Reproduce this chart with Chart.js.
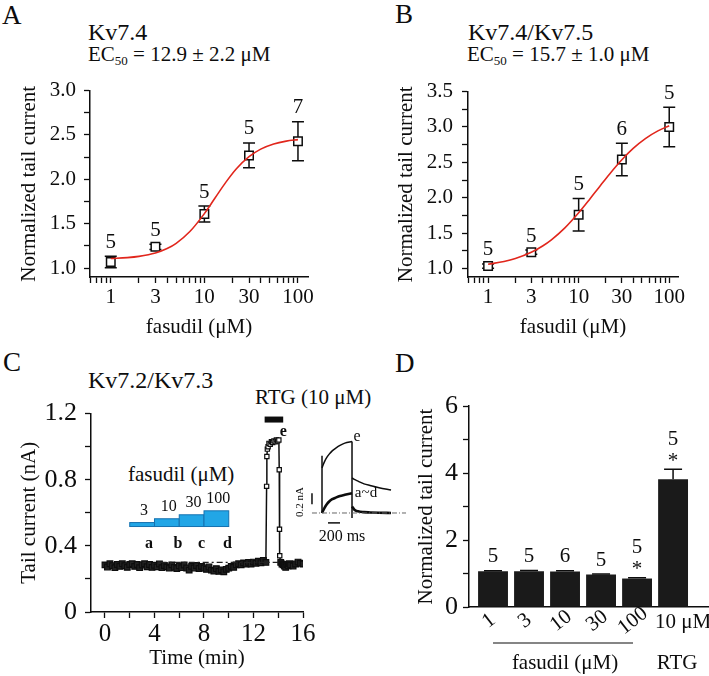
<!DOCTYPE html>
<html>
<head>
<meta charset="utf-8">
<script src="https://cdn.jsdelivr.net/npm/chart.js@4.4.1/dist/chart.umd.min.js"></script>
<style>
  html, body { margin: 0; padding: 0; background: #fff; }
  #fig { position: relative; width: 709px; height: 676px; overflow: hidden;
         font-family: "Liberation Serif", "DejaVu Serif", serif; color: #0d0d0d; }
  #fig canvas { position: absolute; }
  .t { position: absolute; white-space: nowrap; line-height: 1; }
  .t sub { font-size: 13px; vertical-align: -4px; line-height: 0; }
</style>
</head>
<body>
<div id="fig">
  <div class="t" style="left:2px;top:2px;font-size:27px">A</div>
  <div class="t" style="left:88px;top:20px;font-size:24px">Kv7.4</div>
  <div class="t" style="left:88px;top:44px;font-size:21px">EC<sub>50</sub> = 12.9 ± 2.2 μM</div>
  <div class="t" style="left:395px;top:1px;font-size:27px">B</div>
  <div class="t" style="left:468px;top:20px;font-size:24px">Kv7.4/Kv7.5</div>
  <div class="t" style="left:467px;top:44px;font-size:21px">EC<sub>50</sub> = 15.7 ± 1.0 μM</div>
  <div class="t" style="left:3px;top:349px;font-size:27px">C</div>
  <div class="t" style="left:88px;top:368px;font-size:24px">Kv7.2/Kv7.3</div>
  <div class="t" style="left:255px;top:387px;font-size:21px">RTG (10 μM)</div>
  <div class="t" style="left:128px;top:464px;font-size:21px">fasudil (μM)</div>
  <div class="t" style="left:395px;top:350px;font-size:27px">D</div>

  <canvas id="chartA" width="340" height="270" style="left:0;top:70px"></canvas>
  <canvas id="chartB" width="354" height="270" style="left:355px;top:70px"></canvas>
  <canvas id="chartC" width="330" height="286" style="left:0;top:390px"></canvas>
  <canvas id="chartInset" width="125" height="125" style="left:295px;top:425px"></canvas>
  <canvas id="chartD" width="354" height="296" style="left:355px;top:380px"></canvas>
</div>
<script>
"use strict";

// ---- panel A / B : concentration-response ----
const doses = [1, 3, 10, 30, 100];
const doseLabels = [1, 3, 10, 30, 100];
const logTicks = [0.6, 0.7, 0.8, 0.9, 1, 2, 3, 4, 5, 6, 7, 8, 9, 10, 20, 30, 40, 50, 60, 70, 80, 90, 100];

const kv74Mean = [1.07, 1.24, 1.61, 2.27, 2.43];
const kv74Sem = [0.065, 0.03, 0.09, 0.14, 0.22];
const kv74N = ['5', '5', '5', '5', '7'];

const kv745Mean = [1.035, 1.23, 1.76, 2.54, 3.0];
const kv745Sem = [0.03, 0.03, 0.23, 0.23, 0.28];
const kv745N = ['5', '5', '5', '6', '5'];

// fitted curves
const fitDoses = [1, 1.5, 2, 3, 4, 5, 7, 10, 13, 17, 22, 30, 40, 55, 75, 100];
const kv74Fit = [1.108, 1.118, 1.132, 1.170, 1.220, 1.279, 1.412, 1.614, 1.790, 1.969, 2.120, 2.256, 2.341, 2.399, 2.431, 2.448];
const kv745Fit = [1.060, 1.099, 1.141, 1.229, 1.318, 1.405, 1.570, 1.787, 1.966, 2.157, 2.337, 2.537, 2.697, 2.839, 2.945, 3.018];

const kv74YTicks = [1, 1.25, 1.5, 1.75, 2, 2.25, 2.5, 2.75, 3];
const kv745YTicks = [1, 1.25, 1.5, 1.75, 2, 2.25, 2.5, 2.75, 3, 3.25, 3.5];

// ---- panel C : time course (min, nA) ----
const tcTime = [0, 0.2, 0.4, 0.6, 0.8, 1, 1.2, 1.4, 1.6, 1.8, 2, 2.2, 2.4, 2.6, 2.8, 3, 3.2, 3.4, 3.6, 3.8,
  4, 4.2, 4.4, 4.6, 4.8, 5, 5.2, 5.4, 5.6, 5.8, 6, 6.2, 6.4, 6.6, 6.8, 7, 7.2, 7.4, 7.6, 7.8,
  8, 8.2, 8.4, 8.6, 8.8, 9, 9.2, 9.4, 9.6, 9.8, 10, 10.2, 10.4, 10.6, 10.8, 11, 11.2, 11.4, 11.6, 11.8,
  12, 12.2, 12.4, 12.6, 12.8, 13.0,
  13.06, 13.08, 13.12, 13.18, 13.25, 13.35, 13.45, 13.55, 13.65, 13.75, 13.85, 13.95, 14.05, 14.08, 14.1, 14.12,
  14.2, 14.3, 14.4, 14.5, 14.6, 14.7, 14.8, 14.9, 15, 15.2, 15.4, 15.6, 15.8, 16];
const tcCurrent = [0.285, 0.272, 0.292, 0.28, 0.268, 0.287, 0.276, 0.292, 0.28, 0.27,
  0.287, 0.292, 0.276, 0.287, 0.268, 0.284, 0.292, 0.274, 0.287, 0.27,
  0.283, 0.273, 0.29, 0.268, 0.281, 0.273, 0.266, 0.285, 0.27, 0.263,
  0.279, 0.268, 0.284, 0.266, 0.253, 0.276, 0.266, 0.281, 0.263, 0.276,
  0.266, 0.258, 0.272, 0.253, 0.248, 0.262, 0.246, 0.255, 0.243, 0.258,
  0.265, 0.276, 0.27, 0.285, 0.292, 0.285, 0.297, 0.29, 0.3, 0.29,
  0.302, 0.295, 0.307, 0.298, 0.312, 0.3,
  0.76, 0.94, 0.985, 1.0, 1.02, 1.015, 1.03, 1.025, 1.035, 1.03, 1.04, 1.035, 1.04, 0.86, 0.5, 0.34,
  0.30, 0.29, 0.285, 0.278, 0.27, 0.287, 0.28, 0.292, 0.285, 0.278, 0.29, 0.302, 0.295, 0.29];
const refLineT = [4.5, 14.0];
const refLineY = [0.30, 0.30];
const fasStart = [2, 4, 6, 8];
const fasEnd = [4, 6, 8, 10];
const fasTop = [0.541, 0.564, 0.588, 0.612];
const fasBase = 0.517;
const fasConc = ['3', '10', '30', '100'];
const rtgBar = [12.9, 14.4];
const rtgBarLevel = 1.164;
const markText = ['a', 'b', 'c', 'd', 'e'];
const markT = [3.55, 5.9, 7.8, 9.9, 14.4];
const markY = [0.41, 0.41, 0.41, 0.41, 1.09];
const cTimeTicks = [0, 2, 4, 6, 8, 10, 12, 14, 16];
const cTimeLabels = [0, 4, 8, 12, 16];
const cCurTicks = [0, 0.2, 0.4, 0.6, 0.8, 1.0, 1.2];
const cCurLabels = ['0', '', '0.4', '', '0.8', '', '1.2'];

// inset traces (ms, nA)
const insetStepT = [0, 40, 80, 120, 170, 230, 300, 380, 500];
const insetEStep = [0.82, 0.93, 1.01, 1.07, 1.13, 1.18, 1.23, 1.27, 1.30];
const insetADStep = [0, 0.09, 0.16, 0.21, 0.25, 0.28, 0.31, 0.33, 0.36];
const insetTailT = [500, 540, 600, 700, 800, 950, 1150];
const insetETail = [0.64, 0.61, 0.58, 0.53, 0.50, 0.46, 0.42];
const insetADTail = [0.12, 0.06, 0.03, 0.015, 0.01, 0.005, 0.0];
const insetCapT = [0, 500];
const insetCapTop = [1.04, 1.30];
const insetCapBottom = [0, -0.09];

// ---- panel D : summary bars ----
const dCats = ['1', '3', '10', '30', '100', '10 μM'];
const dMean = [1.07, 1.07, 1.06, 0.97, 0.85, 3.81];
const dSem = [0.015, 0.02, 0.02, 0.015, 0.02, 0.30];
const dN = ['5', '5', '6', '5', '5', '5'];
const dStar = [false, false, false, false, true, true];
const dYTicks = [0, 1, 2, 3, 4, 5, 6];

const INK = '#0d0d0d';
const SERIF = '"Liberation Serif", "DejaVu Serif", serif';
Chart.defaults.font.family = SERIF;
Chart.defaults.color = INK;
Chart.defaults.animation = false;
Chart.defaults.responsive = false;
Chart.defaults.plugins.legend.display = false;
Chart.defaults.plugins.tooltip.enabled = false;

const charts = [];

function fixedTicks(list) {
  return function (scale) { scale.ticks = list.map(v => ({ value: v })); };
}
function axis(o) {
  return Object.assign({
    border: { color: INK, width: 1.5 },
    grid: { drawOnChartArea: false, tickLength: 6, tickColor: INK, tickWidth: 1.3 }
  }, o);
}
function pts(xs, ys) { return xs.map((x, i) => ({ x: x, y: ys[i] })); }

// error bars + n above each point
function doseMarks(means, errs, ns) {
  return {
    id: 'doseMarks',
    beforeDatasetsDraw(chart) {
      const { ctx, scales: { x, y } } = chart;
      ctx.save();
      ctx.strokeStyle = INK;
      ctx.lineWidth = 1.5;
      doses.forEach((d, i) => {
        const px = x.getPixelForValue(d);
        const top = y.getPixelForValue(means[i] + errs[i]);
        const bot = y.getPixelForValue(means[i] - errs[i]);
        ctx.beginPath();
        ctx.moveTo(px, top); ctx.lineTo(px, bot);
        ctx.moveTo(px - 6, top); ctx.lineTo(px + 6, top);
        ctx.moveTo(px - 6, bot); ctx.lineTo(px + 6, bot);
        ctx.stroke();
      });
      ctx.restore();
    },
    afterDraw(chart) {
      const { ctx, scales: { x, y } } = chart;
      ctx.save();
      ctx.fillStyle = INK;
      ctx.font = '21px ' + SERIF;
      ctx.textAlign = 'center';
      ctx.textBaseline = 'middle';
      doses.forEach((d, i) => {
        ctx.fillText(ns[i], x.getPixelForValue(d), y.getPixelForValue(means[i] + errs[i]) - 14);
      });
      ctx.restore();
    }
  };
}

function doseChart(id, means, errs, ns, fit, o) {
  return new Chart(document.getElementById(id), {
    type: 'scatter',
    data: {
      datasets: [
        { data: pts(fitDoses, fit), showLine: true, borderColor: '#e1261c', borderWidth: 1.6,
          pointRadius: 0, cubicInterpolationMode: 'monotone' },
        { data: pts(doses, means), pointStyle: 'rect', pointRadius: 6, pointBorderWidth: 1.5,
          pointBorderColor: INK, pointBackgroundColor: '#fff' }
      ]
    },
    options: {
      layout: { padding: { top: o.top, right: o.right, left: 0, bottom: 0 } },
      scales: {
        x: axis({
          type: 'logarithmic', min: 0.6, max: o.xMax,
          afterBuildTicks: fixedTicks(logTicks),
          afterFit: s => { s.height = 63; },
          ticks: { autoSkip: false, maxRotation: 0, padding: 2, font: { size: 21 },
            callback: v => doseLabels.includes(v) ? String(v) : '' },
          title: { display: true, text: 'fasudil (μM)', font: { size: 21 }, padding: { bottom: 0 } }
        }),
        y: axis({
          min: o.yMin, max: o.yMax,
          afterBuildTicks: fixedTicks(o.yTicks),
          afterFit: s => { s.width = o.yWidth; },
          ticks: { autoSkip: false, padding: o.tickPad, font: { size: 21 },
            callback: v => (v * 2) % 1 === 0 ? v.toFixed(1) : '' },
          title: { display: true, text: 'Normalized tail current', font: { size: 21 }, padding: { top: o.titlePad } }
        })
      }
    },
    plugins: [doseMarks(means, errs, ns)]
  });
}

charts.push(doseChart('chartA', kv74Mean, kv74Sem, kv74N, kv74Fit,
  { top: 16, right: 32, xMax: 128, yMin: 0.9, yMax: 3.0, yTicks: kv74YTicks, yWidth: 90, tickPad: 8, titlePad: 17 }));
charts.push(doseChart('chartB', kv745Mean, kv745Sem, kv745N, kv745Fit,
  { top: 15, right: 31, xMax: 125, yMin: 0.88, yMax: 3.5, yTicks: kv745YTicks, yWidth: 113, tickPad: 9, titlePad: 39 }));

// ---- panel C ----
const cExtras = {
  id: 'cExtras',
  afterDatasetsDraw(chart) {
    const { ctx, scales: { x, y } } = chart;
    ctx.save();
    // fasudil application steps
    fasStart.forEach((s, i) => {
      const x0 = x.getPixelForValue(s), x1 = x.getPixelForValue(fasEnd[i]);
      const yt = y.getPixelForValue(fasTop[i]), yb = y.getPixelForValue(fasBase);
      ctx.fillStyle = '#22a6e6';
      ctx.fillRect(x0, yt, x1 - x0, yb - yt);
      ctx.strokeStyle = '#1672b0';
      ctx.lineWidth = 1;
      ctx.strokeRect(x0, yt, x1 - x0, yb - yt);
      ctx.fillStyle = INK;
      ctx.font = '16px ' + SERIF;
      ctx.textAlign = 'center';
      ctx.textBaseline = 'middle';
      ctx.fillText(fasConc[i], (x0 + x1) / 2 + 2, yt - 12);
    });
    // RTG bar
    const r0 = x.getPixelForValue(rtgBar[0]), r1 = x.getPixelForValue(rtgBar[1]);
    ctx.fillStyle = INK;
    ctx.fillRect(r0, y.getPixelForValue(rtgBarLevel) - 3, r1 - r0, 6);
    // trace letters
    ctx.font = 'bold 16px ' + SERIF;
    ctx.textAlign = 'center';
    ctx.textBaseline = 'middle';
    markText.forEach((m, i) => ctx.fillText(m, x.getPixelForValue(markT[i]), y.getPixelForValue(markY[i])));
    ctx.restore();
  }
};

charts.push(new Chart(document.getElementById('chartC'), {
  type: 'scatter',
  data: {
    datasets: [
      { data: pts(refLineT, refLineY), showLine: true, borderColor: '#222', borderWidth: 1.2,
        borderDash: [6, 3, 2, 3], pointRadius: 0 },
      { data: pts(tcTime, tcCurrent), showLine: true, borderColor: INK, borderWidth: 1.5,
        pointStyle: 'rect', pointBorderWidth: 1.2, pointBorderColor: INK,
        pointRadius: c => (tcCurrent[c.dataIndex] > 0.33 ? 3 : 4),
        pointBackgroundColor: c => (tcCurrent[c.dataIndex] > 0.33 ? '#fff' : '#222') }
    ]
  },
  options: {
    layout: { padding: { top: 21, right: 27, left: 0, bottom: 0 } },
    scales: {
      x: axis({
        type: 'linear', min: -1.13, max: 16,
        afterBuildTicks: fixedTicks(cTimeTicks),
        afterFit: s => { s.height = 64; },
        ticks: { autoSkip: false, maxRotation: 0, padding: 1, font: { size: 25 },
          callback: v => cTimeLabels.includes(v) ? String(v) : '' },
        title: { display: true, text: 'Time (min)', font: { size: 21 }, padding: { bottom: 5 } }
      }),
      y: axis({
        min: 0, max: 1.2,
        afterBuildTicks: fixedTicks(cCurTicks),
        afterFit: s => { s.width = 91; },
        ticks: { autoSkip: false, padding: 8, font: { size: 26 },
          callback: (v, i) => cCurLabels[i] },
        title: { display: true, text: 'Tail current (nA)', font: { size: 21 }, padding: { top: 17 } }
      })
    }
  },
  plugins: [cExtras]
}));

// ---- inset traces ----
const insetLabels = {
  id: 'insetLabels',
  afterDraw(chart) {
    const { ctx, scales: { x, y } } = chart;
    ctx.save();
    ctx.fillStyle = INK;
    ctx.textAlign = 'center';
    ctx.textBaseline = 'middle';
    ctx.font = '16px ' + SERIF;
    ctx.fillText('e', x.getPixelForValue(583), y.getPixelForValue(1.38));
    ctx.fillText('200 ms', x.getPixelForValue(333), y.getPixelForValue(-0.44));
    ctx.font = '15px ' + SERIF;
    ctx.fillText('a~d', x.getPixelForValue(733), y.getPixelForValue(0.36));
    ctx.save();
    ctx.translate(x.getPixelForValue(-370), y.getPixelForValue(0.2));
    ctx.rotate(-Math.PI / 2);
    ctx.font = '11px ' + SERIF;
    ctx.fillText('0.2 nA', 0, 0);
    ctx.restore();
    ctx.restore();
  }
};
const thin = { showLine: true, pointRadius: 0, borderColor: INK, borderWidth: 1.5 };
charts.push(new Chart(document.getElementById('chartInset'), {
  type: 'scatter',
  data: {
    datasets: [
      Object.assign({}, thin, { data: pts([-167, 1400], [0, 0]), borderColor: '#666', borderWidth: 1, borderDash: [5, 2, 1, 2] }),
      Object.assign({}, thin, { data: pts([insetCapT[0], insetCapT[0]], [insetCapBottom[0], insetCapTop[0]]) }),
      Object.assign({}, thin, { data: pts([insetCapT[1], insetCapT[1]], [insetCapTop[1], insetCapBottom[1]]) }),
      Object.assign({}, thin, { data: pts(insetStepT, insetEStep), cubicInterpolationMode: 'monotone' }),
      Object.assign({}, thin, { data: pts(insetTailT, insetETail), cubicInterpolationMode: 'monotone' }),
      Object.assign({}, thin, { data: pts(insetStepT, insetADStep), borderWidth: 2.6, cubicInterpolationMode: 'monotone' }),
      Object.assign({}, thin, { data: pts(insetTailT, insetADTail), borderWidth: 2.6, cubicInterpolationMode: 'monotone' }),
      Object.assign({}, thin, { data: pts([-167, -167], [0.16, 0.36]) }),
      Object.assign({}, thin, { data: pts([100, 300], [-0.18, -0.18]) })
    ]
  },
  options: {
    layout: { padding: 0 },
    scales: {
      x: { type: 'linear', display: false, min: -450, max: 1633 },
      y: { display: false, min: -0.673, max: 1.6 }
    }
  },
  plugins: [insetLabels]
}));

// ---- panel D ----
const dExtras = {
  id: 'dExtras',
  afterDatasetsDraw(chart) {
    const { ctx, scales: { x, y } } = chart;
    ctx.save();
    ctx.strokeStyle = INK;
    ctx.lineWidth = 1.5;
    dMean.forEach((m, i) => {
      const px = x.getPixelForValue(i);
      const top = y.getPixelForValue(m + dSem[i]);
      ctx.beginPath();
      ctx.moveTo(px, y.getPixelForValue(m)); ctx.lineTo(px, top);
      ctx.moveTo(px - 9, top); ctx.lineTo(px + 9, top);
      ctx.stroke();
    });
    ctx.restore();
  },
  afterDraw(chart) {
    const { ctx, scales: { x, y }, chartArea } = chart;
    const base = chartArea.bottom;
    ctx.save();
    ctx.fillStyle = INK;
    ctx.textAlign = 'center';
    ctx.textBaseline = 'middle';
    ctx.font = '21px ' + SERIF;
    dMean.forEach((m, i) => {
      const px = x.getPixelForValue(i);
      const top = y.getPixelForValue(m + dSem[i]);
      if (dStar[i]) {
        ctx.fillText('*', px, top - 8);
        ctx.fillText(dN[i], px, top - 30);
      } else {
        ctx.fillText(dN[i], px, top - 14);
      }
    });
    dCats.forEach((c, i) => {
      const px = x.getPixelForValue(i);
      if (i < 5) {
        ctx.save();
        ctx.translate(px - 4, base + 14);
        ctx.rotate(-38 * Math.PI / 180);
        ctx.fillText(c, 0, 0);
        ctx.restore();
      } else {
        ctx.fillText(c, px + 10, base + 15);
      }
    });
    ctx.strokeStyle = INK;
    ctx.lineWidth = 1.2;
    ctx.beginPath();
    ctx.moveTo(x.getPixelForValue(0), base + 36);
    ctx.lineTo(x.getPixelForValue(4) - 4, base + 36);
    ctx.stroke();
    ctx.fillText('fasudil (μM)', x.getPixelForValue(2), base + 56);
    ctx.fillText('RTG', x.getPixelForValue(5) + 4, base + 56);
    ctx.restore();
  }
};

charts.push(new Chart(document.getElementById('chartD'), {
  type: 'bar',
  data: {
    datasets: [{ data: pts([0, 1, 2, 3, 4, 5], dMean), backgroundColor: '#1a1a1a',
      barPercentage: 0.83, categoryPercentage: 1 }]
  },
  options: {
    layout: { padding: { top: 26, right: 1, left: 0, bottom: 0 } },
    scales: {
      x: {
        type: 'linear', min: -0.667, max: 5.97, offset: false,
        afterFit: s => { s.height = 69; },
        border: { color: INK, width: 1.5 },
        grid: { display: false },
        ticks: { display: false }
      },
      y: axis({
        min: 0, max: 6,
        afterBuildTicks: fixedTicks(dYTicks),
        afterFit: s => { s.width = 114; },
        ticks: { autoSkip: false, padding: 5, font: { size: 26 },
          callback: v => v % 2 === 0 ? String(v) : '' },
        title: { display: true, text: 'Normalized tail current', font: { size: 21 }, padding: { top: 59 } }
      })
    }
  },
  plugins: [dExtras]
}));

// local fonts load lazily; redraw once the serif face is ready
if (document.fonts && document.fonts.load) {
  Promise.all([
    document.fonts.load('20px "Liberation Serif"'),
    document.fonts.load('bold 16px "Liberation Serif"')
  ]).then(() => charts.forEach(c => c.draw()));
}
</script>
</body>
</html>
